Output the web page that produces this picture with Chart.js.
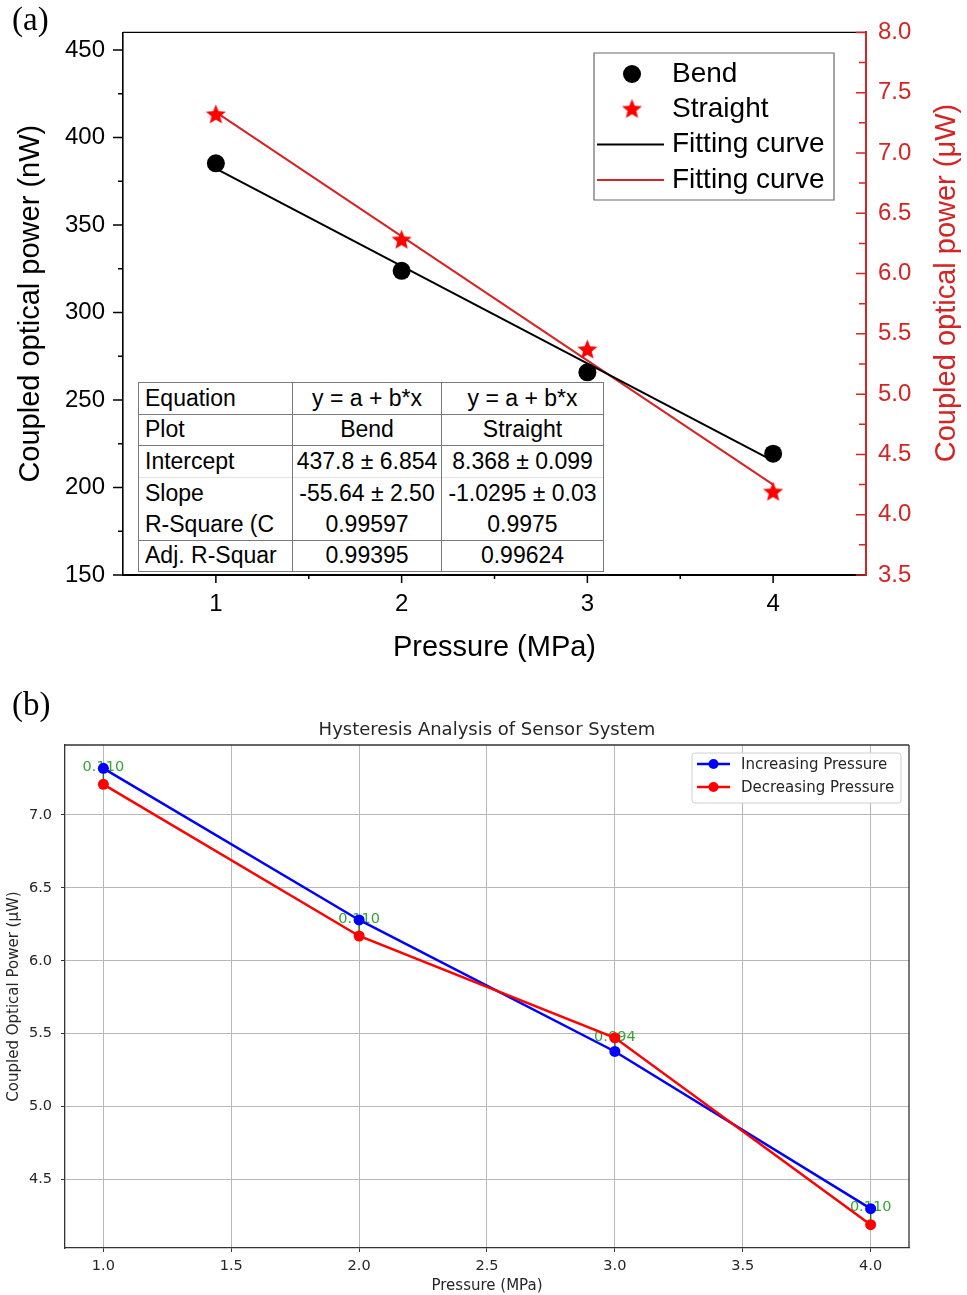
<!DOCTYPE html>
<html>
<head>
<meta charset="utf-8">
<title>Coupled optical power vs pressure</title>
<script src="https://cdn.jsdelivr.net/npm/chart.js@4.4.1/dist/chart.umd.min.js"></script>
<style>
  html, body { margin: 0; padding: 0; background: #fff; }
  #page { position: relative; width: 967px; height: 1295px; overflow: hidden; background: #fff; }
  #chartA { position: absolute; left: 0; top: 0; }
  #chartB { position: absolute; left: 0; top: 690px; }
  .panel-tag { position: absolute; left: 12px; font-family: 'Liberation Serif', 'Times New Roman', serif;
               font-size: 33px; line-height: 33px; color: #000; }
  #fitTable { position: absolute; left: 138px; top: 382px; width: 465px; border-collapse: collapse;
              table-layout: fixed; font-family: 'Liberation Sans', Arial, sans-serif; font-size: 23px;
              color: #000; background: #fff; border: 1.5px solid #7a7a7a; }
  #fitTable tr { height: 31.5px; }
  #fitTable td { padding: 0; text-align: center; white-space: nowrap; overflow: hidden; line-height: 1;
                 border-left: 1.5px solid #7a7a7a; border-right: 1.5px solid #7a7a7a; }
  #fitTable td:first-child { text-align: left; padding-left: 6px; }
  #fitTable tr.rule-solid td { border-top: 1.5px solid #7a7a7a; }
  #fitTable tr.rule-faint td { border-top: 1px solid #e2e2e2; }
</style>
</head>
<body>
<div id="page">
  <canvas id="chartA" width="967" height="675"></canvas>
  <canvas id="chartB" width="967" height="605"></canvas>
  <div class="panel-tag" style="top:3px">(a)</div>
  <div class="panel-tag" style="top:688px">(b)</div>
  <table id="fitTable">
    <colgroup><col style="width:154px"><col style="width:149px"><col style="width:162px"></colgroup>
    <tbody></tbody>
  </table>
</div>
<script>
// ---------- panel (a): bend / straight fibre, linear fits ----------
const pressureMPa = [1, 2, 3, 4];
const bendPowerNW = [385.2, 323.8, 265.8, 219.3];
const straightPowerUW = [7.32, 6.28, 5.37, 4.19];

const plotNames = ['Bend', 'Straight'];
const fitEquation = ['y = a + b*x', 'y = a + b*x'];
const fitIntercept = [437.8, 8.368];
const fitInterceptErr = ['6.854', '0.099'];
const fitSlope = [-55.64, -1.0295];
const fitSlopeErr = ['2.50', '0.03'];
const fitRSquare = ['0.99597', '0.9975'];
const fitAdjRSquare = ['0.99395', '0.99624'];
const fitSpan = [1, 4];

const ticksA_x = [1, 2, 3, 4];
const ticksA_nW = [150, 200, 250, 300, 350, 400, 450];
const ticksA_uW = [3.5, 4.0, 4.5, 5.0, 5.5, 6.0, 6.5, 7.0, 7.5, 8.0];

// ---------- panel (b): hysteresis ----------
const increasingUW = [7.32, 6.28, 5.378, 4.30];
const decreasingUW = [7.21, 6.17, 5.472, 4.19];

const ticksB_x = [1.0, 1.5, 2.0, 2.5, 3.0, 3.5, 4.0];
const ticksB_y = [4.5, 5.0, 5.5, 6.0, 6.5, 7.0];

// ---------- shared helpers ----------
const SANS = "'Liberation Sans', Arial, sans-serif";
const DEJAVU = "'DejaVu Sans', sans-serif";
const RED_AXIS = '#d42424';

function useTicks(values) {
  return (scale) => { scale.ticks = values.map(v => ({ value: v })); };
}

function makeStar(r, fill) {
  const size = Math.ceil(r * 2 + 2);
  const c = document.createElement('canvas');
  c.width = size; c.height = size;
  const g = c.getContext('2d');
  const cx = size / 2, cy = size / 2 + r * 0.05;
  g.beginPath();
  for (let i = 0; i < 10; i++) {
    const rad = i % 2 ? r * 0.44 : r;
    const ang = -Math.PI / 2 + i * Math.PI / 5;
    g.lineTo(cx + rad * Math.cos(ang), cy + rad * Math.sin(ang));
  }
  g.closePath();
  g.fillStyle = fill;
  g.fill();
  return c;
}

// major + minor tick marks drawn against the chart's own scales
function tickMarksPlugin(marks) {
  return {
    id: 'tickMarks',
    afterDraw(chart) {
      const { ctx, chartArea: a } = chart;
      marks.forEach(m => {
        const scale = chart.scales[m.axis];
        const major = scale.ticks.map(t => t.value);
        const minor = [];
        for (let i = 0; i < major.length - 1; i++) minor.push((major[i] + major[i + 1]) / 2);
        ctx.save();
        ctx.strokeStyle = m.color;
        ctx.lineWidth = m.width;
        ctx.beginPath();
        [[major, m.major], [minor, m.minor]].forEach(([vals, len]) => {
          vals.forEach(v => {
            const p = scale.getPixelForValue(v);
            if (m.side === 'bottom') { ctx.moveTo(p, a.bottom); ctx.lineTo(p, a.bottom + len); }
            else if (m.side === 'left') { ctx.moveTo(a.left, p); ctx.lineTo(a.left - len, p); }
            else { ctx.moveTo(a.right, p); ctx.lineTo(a.right - len, p); }
          });
        });
        ctx.stroke();
        ctx.restore();
      });
    }
  };
}

function framePlugin(sides, color, width) {
  return {
    id: 'frame',
    afterDraw(chart) {
      const { ctx, chartArea: a } = chart;
      ctx.save();
      ctx.strokeStyle = color;
      ctx.lineWidth = width;
      ctx.beginPath();
      if (sides.includes('top')) { ctx.moveTo(a.left, a.top); ctx.lineTo(a.right, a.top); }
      if (sides.includes('right')) { ctx.moveTo(a.right, a.top); ctx.lineTo(a.right, a.bottom); }
      if (sides.includes('left')) { ctx.moveTo(a.left, a.top); ctx.lineTo(a.left, a.bottom); }
      if (sides.includes('bottom')) { ctx.moveTo(a.left, a.bottom); ctx.lineTo(a.right, a.bottom); }
      ctx.stroke();
      ctx.restore();
    }
  };
}

// boxed legend built from the chart's datasets
function boxLegendPlugin(cfg) {
  return {
    id: 'boxLegend',
    afterDraw(chart) {
      const ctx = chart.ctx;
      ctx.save();
      ctx.beginPath();
      if (cfg.radius) ctx.roundRect(cfg.box[0], cfg.box[1], cfg.box[2], cfg.box[3], cfg.radius);
      else ctx.rect(cfg.box[0], cfg.box[1], cfg.box[2], cfg.box[3]);
      ctx.fillStyle = cfg.fill;
      ctx.fill();
      ctx.strokeStyle = cfg.stroke;
      ctx.lineWidth = cfg.strokeWidth;
      ctx.stroke();
      ctx.font = cfg.font;
      ctx.textBaseline = 'middle';
      ctx.textAlign = 'left';
      cfg.rows.forEach((r, i) => {
        const ds = chart.data.datasets[r.dataset];
        const y = cfg.rowY[i];
        if (r.line) {
          ctx.beginPath();
          ctx.moveTo(cfg.lineX[0], y);
          ctx.lineTo(cfg.lineX[1], y);
          ctx.strokeStyle = ds.borderColor;
          ctx.lineWidth = ds.borderWidth;
          ctx.stroke();
        }
        if (r.marker) {
          ctx.fillStyle = ds.backgroundColor;
          ctx.strokeStyle = ds.backgroundColor;
          Chart.helpers.drawPoint(ctx, { pointStyle: ds.pointStyle, radius: r.radius, rotation: 0, borderWidth: 0 },
                                  cfg.markerX, y);
        }
        ctx.fillStyle = cfg.textColor;
        ctx.fillText(ds.label, cfg.textX, y + (cfg.textDy || 0));
      });
      ctx.restore();
    }
  };
}

// ---------- fit-parameter table ----------
(function buildTable() {
  const rows = [
    ['Equation', ...fitEquation],
    ['Plot', ...plotNames],
    ['Intercept', ...fitIntercept.map((v, i) => `${v} \u00b1 ${fitInterceptErr[i]}`)],
    ['Slope', ...fitSlope.map((v, i) => `${v} \u00b1 ${fitSlopeErr[i]}`)],
    ['R-Square (C', ...fitRSquare],
    ['Adj. R-Squar', ...fitAdjRSquare]
  ];
  const rules = ['', 'solid', 'solid', 'faint', '', 'solid'];
  const body = document.querySelector('#fitTable tbody');
  rows.forEach((cells, i) => {
    const tr = document.createElement('tr');
    if (rules[i]) tr.className = 'rule-' + rules[i];
    cells.forEach(text => {
      const td = document.createElement('td');
      td.textContent = text;
      tr.appendChild(td);
    });
    body.appendChild(tr);
  });
})();

// ---------- chart (a) ----------
const starImg = makeStar(10.5, '#ff0000');

const rightTitleA = {
  id: 'rightTitle',
  afterDraw(chart) {
    const ctx = chart.ctx;
    ctx.save();
    ctx.translate(946.5, 283);
    ctx.rotate(-Math.PI / 2);
    ctx.font = `29px ${SANS}`;
    ctx.fillStyle = RED_AXIS;
    ctx.textAlign = 'center';
    ctx.textBaseline = 'middle';
    ctx.fillText('Coupled optical power (\u03bcW)', 0, 0);
    ctx.restore();
  }
};

new Chart(document.getElementById('chartA'), {
  type: 'scatter',
  data: {
    datasets: [
      {
        label: 'Bend',
        data: pressureMPa.map((x, i) => ({ x, y: bendPowerNW[i] })),
        yAxisID: 'y', pointStyle: 'circle', pointRadius: 9, pointBorderWidth: 0,
        backgroundColor: '#000000', borderColor: '#000000', showLine: false
      },
      {
        label: 'Straight',
        data: pressureMPa.map((x, i) => ({ x, y: straightPowerUW[i] })),
        yAxisID: 'y1', pointStyle: starImg, pointRadius: 10, pointBorderWidth: 0,
        backgroundColor: '#ff0000', borderColor: '#ff0000', showLine: false
      },
      {
        label: 'Fitting curve',
        data: fitSpan.map(x => ({ x, y: fitIntercept[0] + fitSlope[0] * x })),
        yAxisID: 'y', showLine: true, borderColor: '#000000', backgroundColor: '#000000',
        borderWidth: 2, pointRadius: 0
      },
      {
        label: 'Fitting curve',
        data: fitSpan.map(x => ({ x, y: fitIntercept[1] + fitSlope[1] * x })),
        yAxisID: 'y1', showLine: true, borderColor: RED_AXIS, backgroundColor: RED_AXIS,
        borderWidth: 2, pointRadius: 0
      }
    ]
  },
  options: {
    responsive: false,
    animation: false,
    events: [],
    layout: { padding: { top: 28, left: 0, right: 0, bottom: 0 } },
    plugins: { legend: { display: false }, tooltip: { enabled: false }, title: { display: false } },
    scales: {
      x: {
        type: 'linear', min: 0.5, max: 4.5,
        afterBuildTicks: useTicks(ticksA_x),
        afterFit: s => { s.height = 100; },
        ticks: { autoSkip: false, maxRotation: 0, padding: 15, color: '#000',
                 font: { family: SANS, size: 24 } },
        grid: { display: false, drawTicks: false },
        border: { display: true, color: '#000', width: 2 },
        title: { display: true, text: 'Pressure (MPa)', color: '#000',
                 font: { family: SANS, size: 29 }, padding: { top: 0, bottom: 9.6 } }
      },
      y: {
        type: 'linear', position: 'left', min: 150, max: 460,
        afterBuildTicks: useTicks(ticksA_nW),
        afterFit: s => { s.width = 123; },
        ticks: { autoSkip: false, padding: 18, color: '#000', font: { family: SANS, size: 24 } },
        grid: { display: false, drawTicks: false },
        border: { display: true, color: '#000', width: 1.6 },
        title: { display: true, text: 'Coupled optical power (nW)', color: '#000',
                 font: { family: SANS, size: 29 }, padding: { top: 14, bottom: 0 } }
      },
      y1: {
        type: 'linear', position: 'right', min: 3.5, max: 8.0,
        afterBuildTicks: useTicks(ticksA_uW),
        afterFit: s => { s.width = 101; },
        ticks: { autoSkip: false, padding: 12, color: RED_AXIS, font: { family: SANS, size: 24 },
                 callback: v => Number(v).toFixed(1) },
        grid: { display: false, drawTicks: false },
        border: { display: true, color: RED_AXIS, width: 2 }
      }
    }
  },
  plugins: [
    framePlugin(['top'], '#000', 1.4),
    tickMarksPlugin([
      { axis: 'y', side: 'left', major: 10, minor: 5, color: '#000', width: 1.5 },
      { axis: 'y1', side: 'right', major: 10, minor: 7, color: RED_AXIS, width: 1.5 },
      { axis: 'x', side: 'bottom', major: 8, minor: 4, color: '#000', width: 1.5 }
    ]),
    rightTitleA,
    boxLegendPlugin({
      box: [594, 53, 240, 147], fill: '#ffffff', stroke: '#6a6a6a', strokeWidth: 1.2,
      font: `28px ${SANS}`, textColor: '#000',
      rowY: [74, 109, 144.5, 180], lineX: [597, 664], markerX: 632, textX: 672,
      rows: [
        { dataset: 0, marker: true, radius: 9 },
        { dataset: 1, marker: true, radius: 10 },
        { dataset: 2, line: true },
        { dataset: 3, line: true }
      ]
    })
  ]
});

// ---------- chart (b) ----------
const gapAnnotations = {
  id: 'gapAnnotations',
  beforeDatasetsDraw(chart) {
    const { ctx, scales: { x, y } } = chart;
    ctx.save();
    pressureMPa.forEach((p, i) => {
      const up = increasingUW[i], down = decreasingUW[i];
      const px = x.getPixelForValue(p);
      ctx.beginPath();
      ctx.moveTo(px, y.getPixelForValue(up));
      ctx.lineTo(px, y.getPixelForValue(down));
      ctx.strokeStyle = '#1a7f1a';
      ctx.lineWidth = 1.5;
      ctx.stroke();
      ctx.font = `14.5px ${DEJAVU}`;
      ctx.fillStyle = '#34a634';
      ctx.textAlign = 'center';
      ctx.textBaseline = 'middle';
      ctx.fillText(Math.abs(up - down).toFixed(3), px, y.getPixelForValue(Math.max(up, down)) - 1);
    });
    ctx.restore();
  }
};

new Chart(document.getElementById('chartB'), {
  type: 'scatter',
  data: {
    datasets: [
      {
        label: 'Increasing Pressure',
        data: pressureMPa.map((x, i) => ({ x, y: increasingUW[i] })),
        showLine: true, borderColor: '#0000ff', backgroundColor: '#0000ff',
        borderWidth: 2.5, pointRadius: 5.5, pointBorderWidth: 0, pointStyle: 'circle', order: 1
      },
      {
        label: 'Decreasing Pressure',
        data: pressureMPa.map((x, i) => ({ x, y: decreasingUW[i] })),
        showLine: true, borderColor: '#ff0000', backgroundColor: '#ff0000',
        borderWidth: 2.5, pointRadius: 5.5, pointBorderWidth: 0, pointStyle: 'circle', order: 0
      }
    ]
  },
  options: {
    responsive: false,
    animation: false,
    events: [],
    layout: { padding: { top: 0, left: 0, right: 58, bottom: 0 } },
    plugins: {
      legend: { display: false },
      tooltip: { enabled: false },
      title: {
        display: true, fullSize: false, text: 'Hysteresis Analysis of Sensor System',
        color: '#262626', font: { family: DEJAVU, size: 18, weight: 'normal' },
        padding: { top: 29.8, bottom: 3.6 }
      }
    },
    scales: {
      x: {
        type: 'linear', min: 0.85, max: 4.15,
        afterBuildTicks: useTicks(ticksB_x),
        afterFit: s => { s.height = 47; },
        ticks: { autoSkip: false, maxRotation: 0, padding: 5.3, color: '#262626',
                 font: { family: DEJAVU, size: 14.5 }, callback: v => Number(v).toFixed(1) },
        grid: { color: '#b8b8b8', lineWidth: 1, drawTicks: true, tickLength: 4, tickColor: '#333' },
        border: { display: true, color: '#333', width: 1.3 },
        title: { display: true, text: 'Pressure (MPa)', color: '#262626',
                 font: { family: DEJAVU, size: 15 }, padding: { top: 0, bottom: 0 } }
      },
      y: {
        type: 'linear', position: 'left', min: 4.03, max: 7.48,
        afterBuildTicks: useTicks(ticksB_y),
        afterFit: s => { s.width = 65; },
        ticks: { autoSkip: false, padding: 9, color: '#262626',
                 font: { family: DEJAVU, size: 14.5 }, callback: v => Number(v).toFixed(1) },
        grid: { color: '#b8b8b8', lineWidth: 1, drawTicks: true, tickLength: 4, tickColor: '#333' },
        border: { display: true, color: '#333', width: 1.3 },
        title: { display: true, text: 'Coupled Optical Power (\u03bcW)', color: '#262626',
                 font: { family: DEJAVU, size: 15 }, padding: { top: 4.8, bottom: 0 } }
      }
    }
  },
  plugins: [
    gapAnnotations,
    framePlugin(['top', 'right'], '#333', 1.3),
    boxLegendPlugin({
      box: [692, 63, 209, 50], radius: 3, fill: 'rgba(255,255,255,0.85)', stroke: '#d0d0d0',
      strokeWidth: 1, font: `15px ${DEJAVU}`, textColor: '#262626', textDy: 1.5,
      rowY: [74, 97], lineX: [697, 730], markerX: 713.5, textX: 741,
      rows: [
        { dataset: 0, line: true, marker: true, radius: 5 },
        { dataset: 1, line: true, marker: true, radius: 5 }
      ]
    })
  ]
});
</script>
</body>
</html>
